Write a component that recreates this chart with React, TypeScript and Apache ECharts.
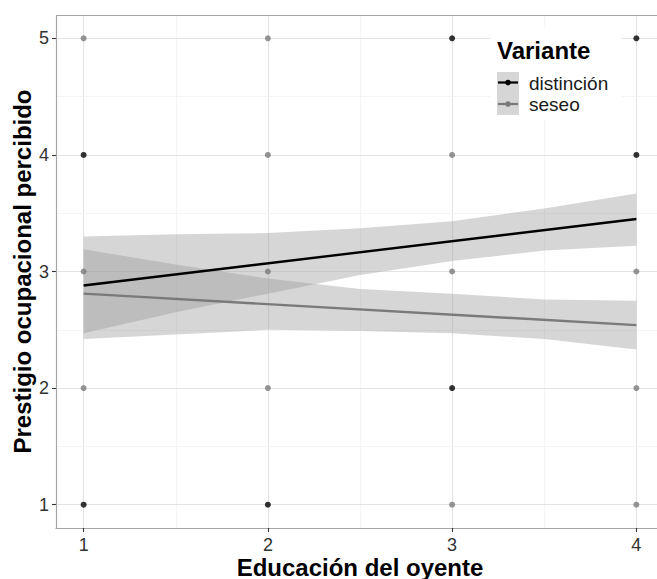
import React, { useEffect, useRef } from 'react';
import * as echarts from 'echarts';

const xTicks = [1, 2, 3, 4];
const yTicks = [1, 2, 3, 4, 5];
const xMinor = [1.5, 2.5, 3.5];
const yMinor = [1.5, 2.5, 3.5, 4.5];

const distincionPoints = [[1, 4], [1, 1], [2, 1], [3, 5], [3, 2], [4, 5], [4, 4]];
const seseoPoints = [[1, 5], [1, 3], [1, 2], [2, 5], [2, 4], [2, 3], [2, 2], [3, 4], [3, 3], [3, 1], [4, 3], [4, 2], [4, 1]];

const fitX = [1, 4];
const distincionFit = [2.88, 3.45];
const seseoFit = [2.81, 2.54];

const bandX = [1, 1.5, 2, 2.5, 3, 3.5, 4];
const distincionUpper = [3.3, 3.32, 3.33, 3.37, 3.43, 3.54, 3.67];
const distincionLower = [2.47, 2.65, 2.81, 2.97, 3.09, 3.18, 3.22];
const seseoUpper = [3.19, 3.06, 2.94, 2.85, 2.81, 2.76, 2.75];
const seseoLower = [2.42, 2.46, 2.5, 2.49, 2.47, 2.42, 2.33];

const X_MIN = 0.85;
const X_MAX = 4.15;
const Y_MIN = 0.8;
const Y_MAX = 5.2;

const FONT = 'Liberation Sans, Arial, Helvetica, sans-serif';
const BAND_FILL = 'rgba(153,153,153,0.4)';
const GRAY = '#7a7a7a';
const BORDER = '#a6a6a6';

function bandSeries(name: string, upper: number[], lower: number[]) {
  return {
    type: 'custom',
    name,
    z: 2,
    silent: true,
    data: [[bandX[0], upper[0]]],
    renderItem: (params: any, api: any) => {
      const pts: number[][] = [];
      for (let i = 0; i < bandX.length; i++) pts.push(api.coord([bandX[i], upper[i]]));
      for (let i = bandX.length - 1; i >= 0; i--) pts.push(api.coord([bandX[i], lower[i]]));
      return { type: 'polygon', shape: { points: pts }, style: { fill: BAND_FILL, stroke: 'none' } };
    },
  };
}

export default function App() {
  const ref = useRef<HTMLDivElement>(null);
  useEffect(() => {
    if (!ref.current) return;
    const chart = echarts.init(ref.current, undefined, { renderer: 'svg' });
    const major = { color: '#e4e4e4', width: 1.1, type: 'solid' };
    const minor = { color: '#f1f1f1', width: 0.8, type: 'solid' };
    const border = { color: BORDER, width: 1.2, type: 'solid' };
    const gridLines = [
      ...xTicks.map((v) => ({ xAxis: v, lineStyle: major })),
      ...xMinor.map((v) => ({ xAxis: v, lineStyle: minor })),
      ...yTicks.map((v) => ({ yAxis: v, lineStyle: major })),
      ...yMinor.map((v) => ({ yAxis: v, lineStyle: minor })),
      { yAxis: Y_MAX, lineStyle: border },
      { xAxis: X_MIN, lineStyle: border },
    ];
    chart.setOption({
      animation: false,
      grid: {
        left: 56, top: 15, width: 608, height: 513,
        outerBoundsMode: 'none', containLabel: false, show: false,
      },
      xAxis: {
        type: 'value',
        min: X_MIN,
        max: X_MAX,
        splitLine: { show: false },
        axisLine: { show: true, onZero: false, lineStyle: { color: BORDER, width: 1.2 } },
        axisTick: { show: true, customValues: xTicks, length: 4, lineStyle: { color: '#333', width: 1.1 } },
        axisLabel: { customValues: xTicks, margin: 8, fontSize: 18, color: '#333', fontFamily: FONT },
      },
      yAxis: {
        type: 'value',
        min: Y_MIN,
        max: Y_MAX,
        splitLine: { show: false },
        axisLine: { show: false },
        axisTick: { show: true, customValues: yTicks, length: 4, lineStyle: { color: '#333', width: 1.1 } },
        axisLabel: { customValues: yTicks, margin: 7, fontSize: 18, color: '#333', fontFamily: FONT },
      },
      series: [
        {
          type: 'scatter',
          name: 'distinción',
          z: 2,
          symbolSize: 6,
          itemStyle: { color: '#000' },
          data: distincionPoints,
          markLine: {
            z: 1,
            silent: true,
            animation: false,
            symbol: ['none', 'none'],
            label: { show: false },
            emphasis: { disabled: true },
            data: gridLines,
          },
        },
        {
          type: 'scatter',
          name: 'seseo',
          z: 2,
          symbolSize: 6,
          itemStyle: { color: GRAY },
          data: seseoPoints,
        },
        bandSeries('distinción banda', distincionUpper, distincionLower),
        bandSeries('seseo banda', seseoUpper, seseoLower),
        {
          type: 'line',
          name: 'distinción ajuste',
          z: 3,
          showSymbol: false,
          lineStyle: { color: '#000', width: 2.4 },
          data: fitX.map((x, i) => [x, distincionFit[i]]),
        },
        {
          type: 'line',
          name: 'seseo ajuste',
          z: 3,
          showSymbol: false,
          lineStyle: { color: GRAY, width: 2.4 },
          data: fitX.map((x, i) => [x, seseoFit[i]]),
        },
      ],
      graphic: [
        { type: 'rect', z: 100, shape: { x: 490, y: 27, width: 132, height: 93 }, style: { fill: '#fff' } },
        { type: 'text', z: 101, x: 497, y: 50, style: { text: 'Variante', font: `bold 24px ${FONT}`, fill: '#000', align: 'left', verticalAlign: 'middle' } },
        { type: 'rect', z: 101, shape: { x: 497, y: 72, width: 22, height: 43 }, style: { fill: '#d6d6d6' } },
        { type: 'line', z: 102, shape: { x1: 498, y1: 82.5, x2: 518, y2: 82.5 }, style: { stroke: '#000', lineWidth: 2.2 } },
        { type: 'circle', z: 102, shape: { cx: 508, cy: 82.5, r: 2.8 }, style: { fill: '#000' } },
        { type: 'line', z: 102, shape: { x1: 498, y1: 104, x2: 518, y2: 104 }, style: { stroke: GRAY, lineWidth: 2.2 } },
        { type: 'circle', z: 102, shape: { cx: 508, cy: 104, r: 2.8 }, style: { fill: GRAY } },
        { type: 'text', z: 101, x: 529, y: 83, style: { text: 'distinción', font: `19px ${FONT}`, fill: '#1a1a1a', align: 'left', verticalAlign: 'middle' } },
        { type: 'text', z: 101, x: 529, y: 104, style: { text: 'seseo', font: `19px ${FONT}`, fill: '#1a1a1a', align: 'left', verticalAlign: 'middle' } },
        { type: 'text', z: 101, x: 360, y: 567, style: { text: 'Educación del oyente', font: `bold 24px ${FONT}`, fill: '#000', align: 'center', verticalAlign: 'middle' } },
        { type: 'text', z: 101, x: 22, y: 271.5, rotation: Math.PI / 2, style: { text: 'Prestigio ocupacional percibido', font: `bold 24px ${FONT}`, fill: '#000', align: 'center', verticalAlign: 'middle' } },
      ],
    });
    return () => chart.dispose();
  }, []);
  return (
    <div style={{ position: 'fixed', left: 0, top: 0, width: 657, height: 579, overflow: 'hidden', background: '#fff' }}>
      <div ref={ref} style={{ width: 657, height: 579 }} />
    </div>
  );
}
